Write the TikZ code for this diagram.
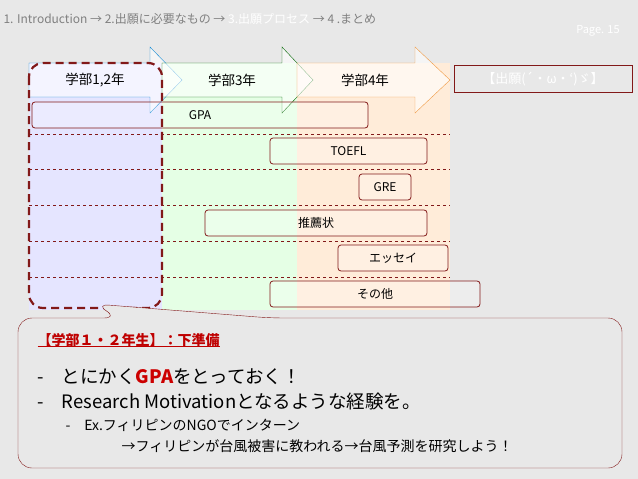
\documentclass[tikz,border=0pt]{standalone}
\usepackage{fontspec}
\setmainfont{Noto Sans CJK JP}
\usetikzlibrary{shapes.arrows}
\definecolor{dred}{RGB}{130,25,25}
\definecolor{bgc}{RGB}{232,232,232}
\tikzset{
  bar/.style={draw=dred,thick,rounded corners=3pt,fill=white,fill opacity=0.25,text opacity=1,font=\fontsize{12}{14}\selectfont},
  row/.style={dred,dashed,thin},
  yr/.style={font=\fontsize{13.5}{15}\selectfont}
}
\begin{document}
\begin{tikzpicture}[x=1pt,y=-1pt]
\useasboundingbox (0,0) rectangle (638,479);
\fill[bgc] (0,0) rectangle (638,479);
% columns
\fill[blue!10] (29,63) rectangle (162,310);
\fill[green!10] (162,63) rectangle (297,310);
\fill[orange!15] (297,63) rectangle (450,310);
% arrows
\draw[cyan!70!blue,fill=white,fill opacity=0.6] (29,63) -- (150,63) -- (150,47) -- (182,80) -- (150,113) -- (150,97) -- (29,97) -- cycle;
\draw[green!40!black,fill=white,fill opacity=0.6] (162,63) -- (282,63) -- (282,47) -- (313,80) -- (282,113) -- (282,97) -- (162,97) -- cycle;
\draw[orange!70!brown!80,fill=white,fill opacity=0.6] (297,63) -- (415,63) -- (415,47) -- (450,80) -- (415,113) -- (415,97) -- (297,97) -- cycle;
\node[yr] (y12) at (95,80) {学部1,2年};
\node[yr] (y3) at (232,80) {学部3年};
\node[yr] (y4) at (365,80) {学部4年};
\node[draw=dred,thick,fill=bgc,minimum width=178pt,minimum height=27pt,text=white,font=\fontsize{13}{15}\selectfont] (title) at (543,79) {【出願(´・ω・`)ゞ】};
% rows
\foreach \y in {134,169,205,241,277} \draw[row] (29,\y) -- (450,\y);
\node[bar,minimum width=336pt,minimum height=26pt] (gpa) at (200,115) {};
\node[font=\fontsize{12}{14}\selectfont] (gpat) at (200,115) {GPA};
\node[bar,minimum width=157pt,minimum height=26pt] (toefl) at (348.5,151) {TOEFL};
\node[bar,minimum width=52pt,minimum height=26pt] (gre) at (385,187) {GRE};
\node[bar,minimum width=222pt,minimum height=26pt] (rec) at (316,223) {推薦状};
\node[bar,minimum width=110pt,minimum height=26pt] (ess) at (393,258) {エッセイ};
\node[bar,minimum width=210pt,minimum height=26pt] (oth) at (375,294) {その他};
% dashed highlight
\draw[dred,line width=2.2pt,dash pattern=on 8pt off 5pt,rounded corners=14pt] (29,63) rectangle (162,308);
% callout
\coordinate (tip) at (95,304);
\draw[dred,fill=bgc,rounded corners=14pt] (18,318) -- (118,318) -- (tip) -- (270,318) -- (622,318) -- (622,468) -- (18,468) -- cycle;
\node[anchor=west,text=red!75!black,font=\bfseries\fontsize{14}{16}\selectfont] (h) at (34,340) {\underbar{【学部１・２年生】：下準備}};
\node[anchor=west,font=\fontsize{18.5}{20}\selectfont] (b1) at (34,377) {-\hspace{18pt}とにかく{\color{red!80!black}\bfseries GPA}をとっておく！};
\node[anchor=west,font=\fontsize{18.5}{20}\selectfont] (b2) at (34,401) {-\hspace{18pt}Research Motivationとなるような経験を。};
\node[anchor=west,font=\fontsize{14}{16}\selectfont] (b3) at (62,425) {-\hspace{14pt}Ex.フィリピンのNGOでインターン};
\node[anchor=west,font=\fontsize{14}{16}\selectfont] (b4) at (118,446) {→フィリピンが台風被害に教われる→台風予測を研究しよう！};
% header
\node[anchor=west,text=gray,font=\fontsize{12}{14}\selectfont] (hdr) at (0,19) {1. Introduction → 2.出願に必要なもの → {\color{white}3.出願プロセス} → 4 .まとめ};
\node[text=white,font=\fontsize{11}{13}\selectfont] (pg) at (598,31) {Page. 15};
\end{tikzpicture}
\end{document}
